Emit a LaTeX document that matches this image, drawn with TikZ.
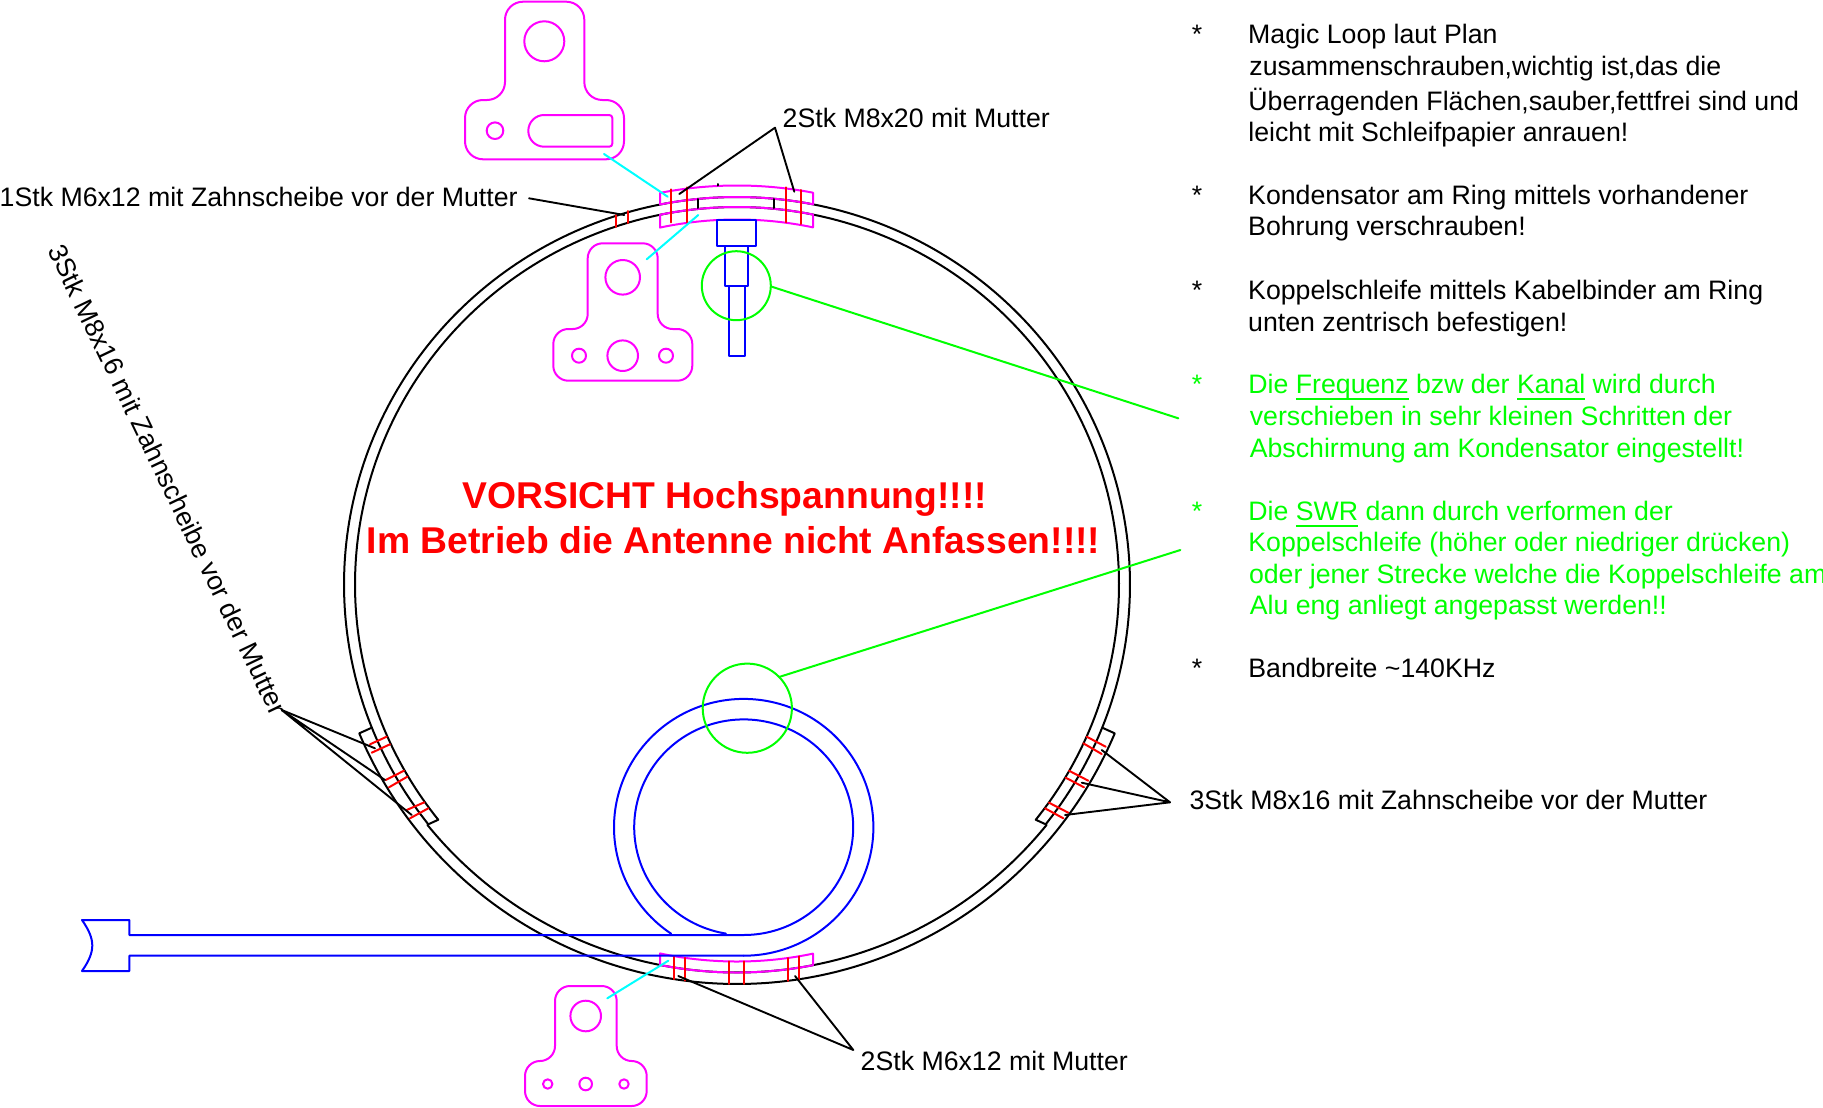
\documentclass[tikz,border=0pt]{standalone}
\usepackage{fontspec}
\setmainfont{Liberation Sans}
\definecolor{pmag}{RGB}{255,0,255}
\definecolor{pcyan}{RGB}{0,255,255}
\definecolor{pgreen}{RGB}{0,255,0}
\definecolor{pblue}{RGB}{0,0,255}
\definecolor{pred}{RGB}{255,0,0}
\newcommand\ulx[1]{\setbox0\hbox{#1}\rlap{\rule[-6pt]{\wd0}{1.5pt}}\box0\relax}
\tikzset{
  declare function={
    upy(\x,\r)=590.5-\r*sqrt(1-((\x-737)/\r)^2);
    upe(\x,\a,\b)=584.5-\b*sqrt(1-((\x-737)/\a)^2);
    loy(\x,\r)=590.5+\r*sqrt(1-((\x-737)/\r)^2);
    lby(\x,\r)=574+\r*sqrt(1-((\x-737)/\r)^2);
  },
  ring/.style={draw=black,line width=2pt},
  plate/.style={draw=pmag,line width=2pt},
  wire/.style={draw=pblue,line width=2pt},
  bolt/.style={draw=pred,line width=2pt},
  gmark/.style={draw=pgreen,line width=2pt},
  pointer/.style={draw=pcyan,line width=2pt},
  leader/.style={draw=black,line width=1.9pt},
  lbl/.style={anchor=base west,inner sep=0pt,font=\fontsize{26.7}{30}\selectfont},
  glbl/.style={lbl,text=pgreen},
  bullet/.style={anchor=base,inner sep=0pt,font=\fontsize{26.7}{30}\selectfont},
  warn/.style={anchor=base,inner sep=0pt,text=pred,font=\fontsize{37.3}{40}\selectfont\bfseries},
}
\begin{document}
\begin{tikzpicture}[x=1pt,y=-1pt,line join=round,line cap=round]
\useasboundingbox (0,0) rectangle (1823,1108);
% ring halves
\draw[ring] plot[domain=-38.2:218.2,samples=260] ({737+393*cos(\x)},{584.5-387.5*sin(\x)})
  -- plot[domain=219.04:320.96,samples=120] ({737+398.5*cos(\x)},{574-398.5*sin(\x)}) -- cycle;
\draw[ring] (1045.7,824.3) -- plot[domain=-38.55:218.55,samples=260] ({737+382*cos(\x)},{584.5-377.5*sin(\x)}) -- (428.3,824.3);
\draw[ring] (371.5,727.8) -- plot[domain=202.87:337.13,samples=150] ({737+410*cos(\x)},{574-410*sin(\x)}) -- (1102.5,727.8);
% top clamp
\draw[plate] plot[domain=660:813,samples=40] (\x,{upy(\x,405)}) -- plot[domain=813:660,samples=40] (\x,{upe(\x,393,387.5)}) -- cycle;
\draw[plate] plot[domain=660:813,samples=40] (\x,{upe(\x,382,377.5)}) -- plot[domain=813:660,samples=40] (\x,{upy(\x,371)}) -- cycle;
% bottom clamp
\draw[plate] plot[domain=660:813,samples=40] (\x,{loy(\x,371)}) -- plot[domain=813:660,samples=40] (\x,{lby(\x,398.5)}) -- cycle;
% bolts top
\draw[bolt] (671.3,189.3) -- (671.3,222.3);
\draw[bolt] (686.7,187.3) -- (686.7,222.3);
\draw[bolt] (786,187.3) -- (786,222.3);
\draw[bolt] (801,190) -- (801,224);
\draw[bolt] (616.3,215) -- (616.3,227);
\draw[bolt] (628,211) -- (628,223);
\draw[ring] (698.3,199) -- (698.3,208);
\draw[ring] (774.3,199) -- (774.3,208);
\draw[ring] (717.7,184) -- (717.7,185.5);
% bolts bottom
\foreach \bx in {673.7,685,729,744,787.7,799}
  \draw[bolt] (\bx,{loy(\bx,371)}) -- (\bx,{lby(\bx,410)});
% bolts left clamp
\draw[bolt] (370,744.3) -- (386.7,736.7);
\draw[bolt] (371.7,752.7) -- (390,744.3);
\draw[bolt] (385.7,780) -- (404,770.7);
\draw[bolt] (389,787.3) -- (407.3,776.7);
\draw[bolt] (406.7,810) -- (424.3,802.3);
\draw[bolt] (410,818.3) -- (428.3,808.3);
% bolts right clamp
\draw[bolt] (1086.7,736.7) -- (1105.7,746.7);
\draw[bolt] (1083.3,743.3) -- (1101.7,754);
\draw[bolt] (1069,770.7) -- (1088.3,780.7);
\draw[bolt] (1065.7,777.7) -- (1084,787.3);
\draw[bolt] (1049,802.7) -- (1068.3,812.7);
\draw[bolt] (1045,808.3) -- (1063.3,818.3);
% capacitor
\draw[wire] (717.3,219.5) rectangle (755.7,245.7);
\draw[wire] (725,245.7) rectangle (748.3,286);
\draw[wire] (729,286) rectangle (744.7,356);
% coupling loop
\draw[wire] plot[domain=-90:236,samples=200] ({743.7+129.7*cos(\x)},{827.3-128.4*sin(\x)});
\draw[wire] plot[domain=-90:260.6,samples=200] ({743.7+109.5*cos(\x)},{827.2-107.8*sin(\x)});
\draw[wire] (743.7,935) -- (129.3,935) -- (129.3,920) -- (82,920)
  .. controls (89,930) and (92.3,938) .. (92.3,945.5)
  .. controls (92.3,953) and (89,961) .. (82,971)
  -- (129.3,971) -- (129.3,955.7) -- (743.7,955.7);
% upper plate
\draw[plate,rounded corners=18pt] (544,1.7) -- (584.3,1.7) -- (584.3,100) -- (624,100) -- (624,159.3) -- (465,159.3) -- (465,100) -- (505,100) -- (505,1.7) -- cycle;
\draw[plate] (544.3,41.3) circle[radius=20];
\draw[plate] (495,130.7) circle[radius=8.3];
\draw[plate] (544.1,115) -- (609.3,115) .. controls (611,115) and (612.3,116.3) .. (612.3,118)
  -- (612.3,143.7) .. controls (612.3,145.4) and (611,146.7) .. (609.3,146.7) -- (544.1,146.7)
  .. controls (535.4,146.7) and (528.3,139.6) .. (528.3,130.85)
  .. controls (528.3,122.1) and (535.4,115) .. (544.1,115) -- cycle;
% middle plate
\draw[plate,rounded corners=15pt] (622,243.3) -- (657.7,243.3) -- (657.7,329) -- (692.3,329) -- (692.3,380.7) -- (553.3,380.7) -- (553.3,329) -- (587.7,329) -- (587.7,243.3) -- cycle;
\draw[plate] (622.7,277.3) circle[radius=17.3];
\draw[plate] (622.7,355.7) circle[radius=15.3];
\draw[plate] (579,355.7) circle[radius=7];
\draw[plate] (666,355.7) circle[radius=7];
% lower plate
\draw[plate,rounded corners=15pt] (586,986) -- (616.7,986) -- (616.7,1061) -- (646.7,1061) -- (646.7,1106) -- (525,1106) -- (525,1061) -- (555,1061) -- (555,986) -- cycle;
\draw[plate] (585.7,1016) circle[radius=15.3];
\draw[plate] (585.7,1084) circle[radius=6.3];
\draw[plate] (547.7,1084) circle[radius=4.7];
\draw[plate] (624,1084) circle[radius=4.7];
% pointers
\coordinate (cA) at (604,154);      \coordinate (cB) at (667.7,196.7);
\coordinate (cC) at (646.7,259.3);  \coordinate (cD) at (698.3,215);
\coordinate (cE) at (607.3,998.3);  \coordinate (cF) at (668.3,960.7);
\draw[pointer] (cA) -- (cB);
\draw[pointer] (cC) -- (cD);
\draw[pointer] (cE) -- (cF);
% green marks
\coordinate (g1) at (771.7,286.7);  \coordinate (g1e) at (1178.3,418.3);
\coordinate (g2) at (780,676.7);    \coordinate (g2e) at (1180.4,550);
\draw[gmark] (736.3,285.7) circle[radius=34.5];
\draw[gmark] (747.3,708.2) circle[radius=44.6];
\draw[gmark] (g1) -- (g1e);
\draw[gmark] (g2) -- (g2e);
% labels
\node[lbl] (l1) at (-0.5,206.5) {1Stk M6x12 mit Zahnscheibe vor der Mutter};
\node[lbl] (l2) at (782.5,127.5) {2Stk M8x20 mit Mutter};
\node[lbl] (l3) at (1189.3,809.3) {3Stk M8x16 mit Zahnscheibe vor der Mutter};
\node[lbl] (l4) at (860.5,1070) {2Stk M6x12 mit Mutter};
\node[lbl,rotate=-64.4] (l5) at (47.5,250) {3Stk M8x16 mit Zahnscheibe vor der Mutter};
% leaders
\coordinate (a1) at (529,198.3);    \coordinate (a1e) at (624.3,215);
\coordinate (a2) at (775,127.7);    \coordinate (a2l) at (679.3,194);  \coordinate (a2r) at (794.3,191.7);
\coordinate (a3) at (853.3,1050);   \coordinate (a3l) at (678.3,976);  \coordinate (a3r) at (795,976);
\coordinate (a4) at (281.7,710);    \coordinate (a4a) at (375,748.3);  \coordinate (a4b) at (385,780); \coordinate (a4c) at (411.7,815);
\coordinate (a5) at (1170,802.3);   \coordinate (a5a) at (1101.7,750); \coordinate (a5b) at (1081.7,782.7); \coordinate (a5c) at (1065,815);
\draw[leader] (a1) -- (a1e);
\draw[leader] (a2l) -- (a2) -- (a2r);
\draw[leader] (a3l) -- (a3) -- (a3r);
\draw[leader] (a4a) -- (a4);
\draw[leader] (a4b) -- (a4) -- (a4c);
\draw[leader] (a5a) -- (a5) -- (a5b);
\draw[leader] (a5) -- (a5c);
% warning
\node[warn] (w1) at (725,508.8) {VORSICHT Hochspannung!!!!};
\node[warn] (w2) at (733.5,553.8) {Im Betrieb die Antenne nicht Anfassen!!!!};
% notes
\node[bullet] (s1) at (1197,44) {*};
\node[lbl] (t1) at (1248,44) {Magic Loop laut Plan};
\node[lbl] (t2) at (1249.2,75.4) {zusammenschrauben,wichtig ist,das die};
\node[lbl] (t3) at (1248.2,110.1) {Überragenden Flächen,sauber,fettfrei sind und};
\node[lbl] (t4) at (1248.2,141.6) {leicht mit Schleifpapier anrauen!};
\node[bullet] (s2) at (1197,204.4) {*};
\node[lbl] (t5) at (1248,204.4) {Kondensator am Ring mittels vorhandener};
\node[lbl] (t6) at (1248,235.8) {Bohrung verschrauben!};
\node[bullet] (s3) at (1197,299.6) {*};
\node[lbl] (t7) at (1248,299.6) {Koppelschleife mittels Kabelbinder am Ring};
\node[lbl] (t8) at (1248,331.1) {unten zentrisch befestigen!};
\node[bullet,text=pgreen] (s4) at (1197,393.9) {*};
\node[glbl] (t9) at (1248.2,393.9) {Die \ulx{Frequenz} bzw der \ulx{Kanal} wird durch};
\node[glbl] (t10) at (1249.6,425.6) {verschieben in sehr kleinen Schritten der};
\node[glbl] (t11) at (1249.6,457.3) {Abschirmung am Kondensator eingestellt!};
\node[bullet,text=pgreen] (s5) at (1197,520.6) {*};
\node[glbl] (t12) at (1248.2,520.6) {Die \ulx{SWR} dann durch verformen der};
\node[glbl] (t13) at (1248.2,551.9) {Koppelschleife (höher oder niedriger drücken)};
\node[glbl] (t14) at (1248.8,583.3) {oder jener Strecke welche die Koppelschleife am};
\node[glbl] (t15) at (1249.6,614.9) {Alu eng anliegt angepasst werden!!};
\node[bullet] (s6) at (1197,677.7) {*};
\node[lbl] (t16) at (1248.2,677.7) {Bandbreite \textasciitilde{}140KHz};
\end{tikzpicture}
\end{document}
